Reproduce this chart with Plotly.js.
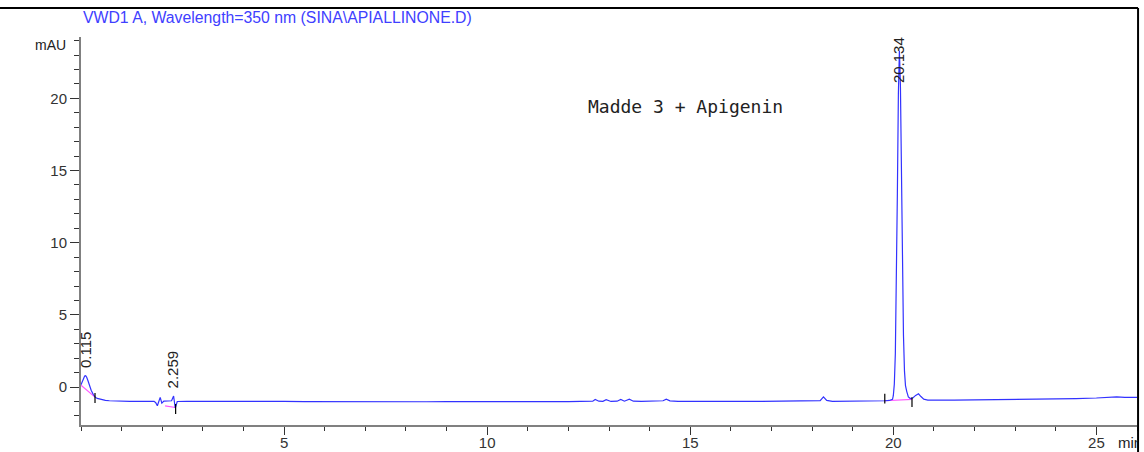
<!DOCTYPE html>
<html>
<head>
<meta charset="utf-8">
<script src="https://cdn.plot.ly/plotly-3.0.1.min.js"></script>
<style>
  html, body { margin: 0; padding: 0; background: #ffffff; }
  #chart { width: 1144px; height: 452px; }
</style>
</head>
<body>
<div id="chart"></div>
<script>
// Chromatogram signal (time in min, absorbance in mAU)
const timeMin = [
  0.00, 0.03, 0.06, 0.09, 0.115, 0.14, 0.17, 0.20, 0.25, 0.30, 0.35, 0.40, 0.50, 0.60, 0.70, 0.85,
  1.00, 1.20, 1.40, 1.60, 1.80, 1.84, 1.88, 1.95, 1.99, 2.04, 2.10, 2.16, 2.23, 2.28, 2.32, 2.37,
  2.45, 2.60, 3.00, 3.50, 4.00, 4.50, 5.00, 5.50, 6.00, 6.50, 7.00, 7.50, 8.00, 8.50, 9.00, 9.50,
  10.00, 10.50, 11.00, 11.50, 12.00, 12.40, 12.60, 12.66, 12.75, 12.85, 12.93, 13.05, 13.20, 13.29,
  13.38, 13.50, 13.60, 13.80, 14.20, 14.33, 14.41, 14.50, 14.70, 15.00, 15.50, 16.00, 16.50, 17.00,
  17.50, 18.00, 18.20, 18.28, 18.36, 18.50, 19.00, 19.50, 19.80, 19.90, 19.98, 20.00, 20.025, 20.05,
  20.075, 20.10, 20.125, 20.15, 20.175, 20.20, 20.225, 20.25, 20.275, 20.30, 20.33, 20.37, 20.42,
  20.48, 20.55, 20.62, 20.68, 20.75, 20.85, 21.00, 21.50, 22.00, 22.50, 23.00, 23.50, 24.00, 24.50,
  25.00, 25.50, 25.70, 26.00
];
const absMAU = [
  0.15, 0.38, 0.62, 0.76, 0.78, 0.68, 0.45, 0.15, -0.22, -0.50, -0.70, -0.79, -0.87, -0.92, -0.95, -0.97,
  -0.98, -0.99, -0.99, -1.00, -1.00, -1.08, -1.30, -0.72, -1.12, -0.98, -0.96, -0.97, -0.95, -0.62, -1.45, -1.00,
  -0.98, -0.99, -1.00, -0.99, -1.00, -1.01, -1.00, -1.01, -1.02, -1.01, -1.02, -1.01, -1.02, -1.02, -1.01, -1.02,
  -1.02, -1.01, -1.02, -1.01, -1.01, -1.02, -0.98, -0.86, -0.98, -0.99, -0.88, -1.00, -0.98, -0.86,
  -0.98, -0.84, -0.98, -1.00, -1.00, -0.95, -0.84, -0.96, -1.00, -0.99, -1.00, -0.99, -1.00, -0.99,
  -1.00, -0.99, -0.94, -0.68, -0.93, -0.99, -0.99, -0.97, -0.95, -0.93, -0.85, -0.60, 0.20, 2.3,
  6.8, 13.4, 20.3, 23.3, 20.9, 14.6, 8.1, 3.6, 1.1, 0.1, -0.30, -0.68, -0.80,
  -0.76, -0.58, -0.47, -0.66, -0.84, -0.90, -0.91, -0.90, -0.89, -0.88, -0.86, -0.86, -0.82, -0.80,
  -0.76, -0.68, -0.72, -0.72
];

// Integration baselines (pink)
const baseT = [0.00, 0.345, null, 2.07, 2.33, null, 19.79, 20.46];
const baseV = [0.12, -0.70, null, -1.30, -1.42, null, -0.95, -0.85];

// Integration start/end tick marks
const markT = [0.345, 2.33, 19.79, 20.46];
const markV = [-0.76, -1.52, -0.80, -1.04];

// Peak retention time labels
const peakRT = ['0.115', '2.259', '20.134'];
const peakX = [0.115, 2.259, 20.134];
const peakTop = [1.15, -0.25, 20.9];

const xTickVals = [5, 10, 15, 20, 25];
const yTickVals = [0, 5, 10, 15, 20];

const titleText = 'VWD1 A, Wavelength=350 nm (SINA\\APIALLINONE.D)';
const noteText = 'Madde 3 + Apigenin';

const traces = [
  { x: baseT, y: baseV, type: 'scatter', mode: 'lines',
    line: { color: '#ff55ff', width: 1.2 }, connectgaps: false, hoverinfo: 'skip' },
  { x: timeMin, y: absMAU, type: 'scatter', mode: 'lines',
    line: { color: 'rgb(50,50,255)', width: 1.2 }, hoverinfo: 'skip' },
  { x: markT, y: markV, type: 'scatter', mode: 'markers',
    marker: { symbol: 'line-ns-open', size: 7, color: '#000', line: { color: '#000', width: 1.2 } },
    hoverinfo: 'skip' }
];

const annotations = [];
for (let i = 0; i < peakRT.length; i++) {
  annotations.push({
    x: peakX[i], y: peakTop[i], xref: 'x', yref: 'y', text: peakRT[i], showarrow: false,
    textangle: -90, xanchor: 'center', yanchor: 'bottom',
    font: { family: 'Liberation Sans, Arial, sans-serif', size: 15, color: '#222' }
  });
}
annotations.push({
  x: 0, xref: 'paper', xanchor: 'left', y: 1.049, yref: 'paper', yanchor: 'middle',
  text: titleText, showarrow: false,
  font: { family: 'Liberation Sans, Arial, sans-serif', size: 15.8, color: '#4040ff' }
});
annotations.push({
  x: -0.012, xref: 'paper', xanchor: 'right', y: 23.7, yref: 'y', yanchor: 'middle',
  text: 'mAU', showarrow: false,
  font: { family: 'Liberation Sans, Arial, sans-serif', size: 14, color: '#222' }
});
annotations.push({
  x: 0.981, xref: 'paper', xanchor: 'left', y: -0.044, yref: 'paper', yanchor: 'middle',
  text: 'min', showarrow: false, width: 20, align: 'left', borderpad: 0,
  font: { family: 'Liberation Sans, Arial, sans-serif', size: 15, color: '#222' }
});
annotations.push({
  x: 14.89, xref: 'x', xanchor: 'center', y: 19.47, yref: 'y', yanchor: 'middle',
  text: noteText, showarrow: false,
  font: { family: 'DejaVu Sans Mono, monospace', size: 18, color: '#222' }
});

const layout = {
  width: 1144, height: 452,
  margin: { l: 81, r: 7, t: 37, b: 27 },
  paper_bgcolor: '#ffffff', plot_bgcolor: '#ffffff',
  showlegend: false, hovermode: false,
  xaxis: {
    range: [0, 26], showgrid: false, zeroline: false,
    showline: true, linecolor: '#808080', linewidth: 2,
    tickmode: 'array', tickvals: xTickVals, ticktext: xTickVals.map(String),
    ticks: 'outside', ticklen: 8, tickwidth: 1, tickcolor: '#333',
    ticklabelstandoff: -5,
    minor: { dtick: 1, tick0: 0, ticks: 'outside', ticklen: 4, tickwidth: 1, tickcolor: '#333', showgrid: false },
    tickfont: { family: 'Liberation Sans, Arial, sans-serif', size: 15, color: '#333' }
  },
  yaxis: {
    range: [-2.63, 24.25], showgrid: false, zeroline: false,
    showline: true, linecolor: '#808080', linewidth: 2,
    tickmode: 'array', tickvals: yTickVals, ticktext: yTickVals.map(String),
    ticks: 'outside', ticklen: 9, tickwidth: 1, tickcolor: '#333',
    minor: { dtick: 1, tick0: 0, ticks: 'outside', ticklen: 5, tickwidth: 1, tickcolor: '#333', showgrid: false },
    tickfont: { family: 'Liberation Sans, Arial, sans-serif', size: 15, color: '#333' }
  },
  shapes: [
    { type: 'line', xref: 'paper', yref: 'paper', x0: -0.0767, x1: 1.001, y0: 1.0747, y1: 1.0747,
      line: { color: '#000', width: 2 }, layer: 'above' },
    { type: 'line', xref: 'paper', yref: 'paper', x0: 1.001, x1: 1.001, y0: 1.0747, y1: -0.08,
      line: { color: '#000', width: 2 }, layer: 'above' }
  ],
  annotations: annotations
};

Plotly.newPlot('chart', traces, layout, { staticPlot: true, displayModeBar: false });
</script>
</body>
</html>
